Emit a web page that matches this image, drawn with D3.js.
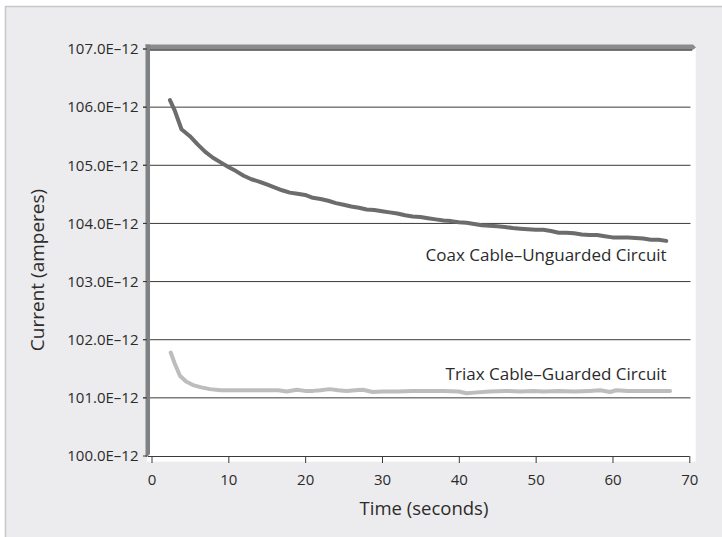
<!DOCTYPE html>
<html>
<head>
<meta charset="utf-8">
<script src="https://cdnjs.cloudflare.com/ajax/libs/d3/7.8.5/d3.min.js"></script>
<style>
  html, body { margin: 0; padding: 0; background: #ffffff; }
  svg { display: block; font-family: "Open Sans", "Noto Sans", sans-serif; }
</style>
</head>
<body>
<script>
// ---- data ----
const yTicks = [100, 101, 102, 103, 104, 105, 106, 107];
const yTickLabels = ["100.0E\u201312", "101.0E\u201312", "102.0E\u201312", "103.0E\u201312",
                     "104.0E\u201312", "105.0E\u201312", "106.0E\u201312", "107.0E\u201312"];
const xTicks = [0, 10, 20, 30, 40, 50, 60, 70];

const coaxTime = [2.4, 3.0, 3.9, 5, 6, 7, 8, 9, 10, 11, 12, 13, 14, 15, 16, 17, 18, 19, 20, 21, 22, 23, 24, 25,
  26, 27, 28, 29, 30, 31, 32, 33, 34, 35, 36, 37, 38, 39, 40, 41, 42, 43, 44, 45, 46, 47, 48, 49, 50,
  51, 52, 53, 54, 55, 56, 57, 58, 59, 60, 61, 62, 63, 64, 65, 66, 67];
const coaxCurrent = [106.12, 105.95, 105.62, 105.50, 105.36, 105.23, 105.13, 105.05, 104.97, 104.90, 104.82,
  104.76, 104.72, 104.67, 104.62, 104.57, 104.53, 104.51, 104.49, 104.44, 104.42, 104.39, 104.35, 104.32,
  104.29, 104.27, 104.24, 104.23, 104.21, 104.19, 104.17, 104.14, 104.12, 104.11, 104.09, 104.07, 104.05,
  104.04, 104.02, 104.01, 103.99, 103.97, 103.96, 103.95, 103.94, 103.92, 103.91, 103.90, 103.89, 103.89,
  103.87, 103.84, 103.84, 103.83, 103.81, 103.80, 103.80, 103.78, 103.76, 103.76, 103.76, 103.75, 103.74,
  103.72, 103.72, 103.70];

const triaxTime = [2.5, 3.0, 3.7, 4.5, 5.4, 6.5, 7.6, 9, 11, 13, 15, 16.5, 17.6, 18.9, 20, 21, 22, 23.2, 24.3,
  25.4, 26.5, 27.5, 28.8, 30, 32, 34, 36, 38, 40, 41, 42, 44, 46, 48, 49.7, 51, 53, 55, 57, 58.4, 59.7,
  60.5, 62, 64, 66, 67.5];
const triaxCurrent = [101.78, 101.60, 101.38, 101.28, 101.22, 101.18, 101.15, 101.13, 101.13, 101.13, 101.13,
  101.13, 101.11, 101.14, 101.12, 101.12, 101.13, 101.15, 101.13, 101.12, 101.13, 101.14, 101.10, 101.11,
  101.11, 101.12, 101.12, 101.12, 101.11, 101.08, 101.09, 101.11, 101.12, 101.11, 101.12, 101.11, 101.12,
  101.11, 101.12, 101.13, 101.10, 101.13, 101.12, 101.12, 101.12, 101.12];

const seriesNames = ["Coax Cable\u2013Unguarded Circuit", "Triax Cable\u2013Guarded Circuit"];
const xTitle = "Time (seconds)";
const yTitle = "Current (amperes)";

// ---- drawing ----
const W = 722, H = 537;
const svg = d3.select("body").append("svg").attr("width", W).attr("height", H);

// outer panel
svg.append("rect").attr("x", 5.5).attr("y", 6.5).attr("width", W).attr("height", H)
  .attr("fill", "#ececee").attr("stroke", "#c8c8ca").attr("stroke-width", 1.5);

const x = d3.scaleLinear().domain([0, 70]).range([151.5, 689.3]);
const y = d3.scaleLinear().domain([100, 107]).range([456, 49]);

// plot area
svg.append("rect").attr("x", 147).attr("y", 47).attr("width", 695.7 - 147).attr("height", 461.7 - 47)
  .attr("fill", "#ffffff");

// gridlines
svg.append("g").selectAll("line").data(yTicks.filter(d => d > 100)).join("line")
  .attr("x1", 143).attr("x2", 690.5)
  .attr("y1", d => y(d)).attr("y2", d => y(d))
  .attr("stroke", "#3a3a3a").attr("stroke-width", 1);

// wall bars (3D style)
svg.append("path")
  .attr("d", `M145,${y(107) - 4.5} L693,${y(107) - 4.5} L696,${y(107) - 1.5} L692,${y(107) + 1.5} L150,${y(107) + 1.5} Z`)
  .attr("fill", "#8a8b8d");
svg.append("line").attr("x1", 150).attr("x2", 692).attr("y1", y(107) + 1).attr("y2", y(107) + 1)
  .attr("stroke", "#5d5e60").attr("stroke-width", 1.5);
svg.append("path")
  .attr("d", `M145.5,${y(107) - 4.5} L150,${y(107) - 4.5} L150,${y(100) - 2} L147,${y(100) + 1} L145.5,${y(100) + 1} Z`)
  .attr("fill", "#808183");

// y tick marks and labels
const yAx = svg.append("g");
yAx.selectAll("line").data(yTicks).join("line")
  .attr("x1", 143).attr("x2", 147).attr("y1", d => y(d)).attr("y2", d => y(d))
  .attr("stroke", "#3a3a3a").attr("stroke-width", 1);
yAx.selectAll("text").data(yTicks).join("text")
  .attr("x", 138.5).attr("y", d => y(d)).attr("dy", "0.35em")
  .attr("text-anchor", "end").attr("font-size", 15).attr("fill", "#2b2b2b")
  .text((d, i) => yTickLabels[i]);

// x axis
const xAxis = d3.axisBottom(x).tickValues(xTicks).tickSize(7).tickPadding(11).tickFormat(d3.format("d"));
const gx = svg.append("g").attr("transform", `translate(0,${y(100)})`).call(xAxis);
gx.select(".domain").attr("d", `M148,0.5H${x(70)}`).attr("stroke", "#3a3a3a");
gx.selectAll(".tick line").attr("stroke", "#3a3a3a");
gx.selectAll(".tick text").attr("font-size", 15).attr("fill", "#2b2b2b")
  .attr("font-family", "\"Open Sans\", sans-serif");

// lines
const line = d3.line().x(d => x(d[0])).y(d => y(d[1])).curve(d3.curveLinear);
const coax = coaxTime.map((t, i) => [t, coaxCurrent[i]]);
const triax = triaxTime.map((t, i) => [t, triaxCurrent[i]]);

svg.append("path").datum(triax).attr("d", line).attr("fill", "none")
  .attr("stroke", "#bcbdbf").attr("stroke-width", 4).attr("stroke-linejoin", "round").attr("stroke-linecap", "round");
svg.append("path").datum(coax).attr("d", line).attr("fill", "none")
  .attr("stroke", "#6b6c6e").attr("stroke-width", 4).attr("stroke-linejoin", "round").attr("stroke-linecap", "round");

// series labels
svg.append("text").attr("x", 666.7).attr("y", 261).attr("text-anchor", "end")
  .attr("font-size", 17).attr("fill", "#2b2b2b").text(seriesNames[0]);
svg.append("text").attr("x", 666.7).attr("y", 380).attr("text-anchor", "end")
  .attr("font-size", 17).attr("fill", "#2b2b2b").text(seriesNames[1]);

// axis titles
svg.append("text").attr("x", 424).attr("y", 515).attr("text-anchor", "middle")
  .attr("font-size", 18.5).attr("fill", "#2b2b2b").text(xTitle);
svg.append("text").attr("transform", "translate(44,270) rotate(-90)").attr("text-anchor", "middle")
  .attr("font-size", 19).attr("fill", "#2b2b2b").text(yTitle);
</script>
</body>
</html>
